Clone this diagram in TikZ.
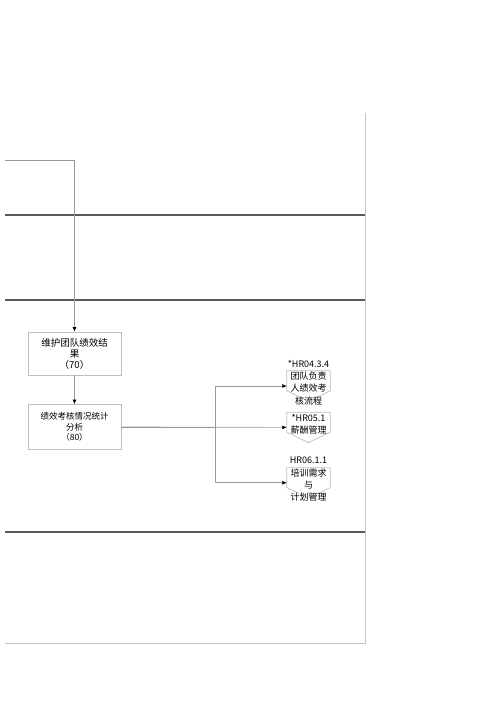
\documentclass[tikz,border=0pt]{standalone}
\usepackage{fontspec}
\setmainfont{Noto Sans CJK SC}
\usepackage{tikz}
\usetikzlibrary{arrows.meta,calc,positioning}

\begin{document}
\begin{tikzpicture}[
    x=1pt, y=-1pt,
    nosep/.style={inner sep=0},
    lane/.style={draw=black!65, line width=1.1pt},
    frame/.style={draw=black!22, line width=0.9pt},
    flow/.style={draw=black!40, line width=0.7pt, -{Latex[length=4.5pt, width=4pt, black]}},
    proc/.style={rectangle, draw=black!25, line width=0.7pt, minimum width=93pt, align=center, font=\fontsize{9.5}{11}\selectfont},
    offpage/.style={rectangle, nosep, minimum width=43pt, minimum height=30pt},
    offtext/.style={align=center, nosep, font=\fontsize{9}{12.2}\selectfont}]
\useasboundingbox (0,0) rectangle (500,709);

% swimlanes
\foreach \y in {215,300,532}
    \path[lane] (5,\y) -- (365.5,\y);
\path[frame] (365.5,113) -- (365.5,643) -- (5,643);

% process boxes
\node (maint) [proc, minimum height=43pt] at (74.5,353.5) {维护团队绩效结\\果\\（70）};
\node (stat) [proc, minimum height=45pt, font=\fontsize{8.5}{10.5}\selectfont] at (74.5,427) {绩效考核情况统计\\分析\\（80）};

% off-page references
\node (hr043) [offpage] at (308.5,386) {};
\node (hr051) [offpage, below=11pt of hr043] {};
\node (hr061) [offpage, below=25pt of hr051] {};
\foreach \n in {hr043,hr051,hr061}
    \path[draw=black!25, line width=0.7pt] (\n.north west) -- (\n.north east) -- ([yshift=-20pt]\n.north east)
        -- (\n.south) -- ([yshift=-20pt]\n.north west) -- cycle;
\node (hr043-t) [offtext] at ([yshift=3.5pt]hr043.center) {*HR04.3.4\\团队负责\\人绩效考\\核流程};
\node (hr051-t) [offtext] at ([yshift=3.5pt]hr051.center) {*HR05.1\\薪酬管理};
\node (hr061-t) [offtext] at ([yshift=3.5pt]hr061.center) {HR06.1.1\\培训需求\\与\\计划管理};

% connectors
\coordinate (in) at (5,160);
\path[flow] (in) -| (maint.north);
\path[flow] (maint) -- (stat);
\path[flow] (stat.east) -- (hr051.west);
\path[flow] (stat.east) -- ++(94,0) |- (hr043.west);
\path[flow] (stat.east) -- ++(94,0) |- (hr061.west);

\end{tikzpicture}
\end{document}
